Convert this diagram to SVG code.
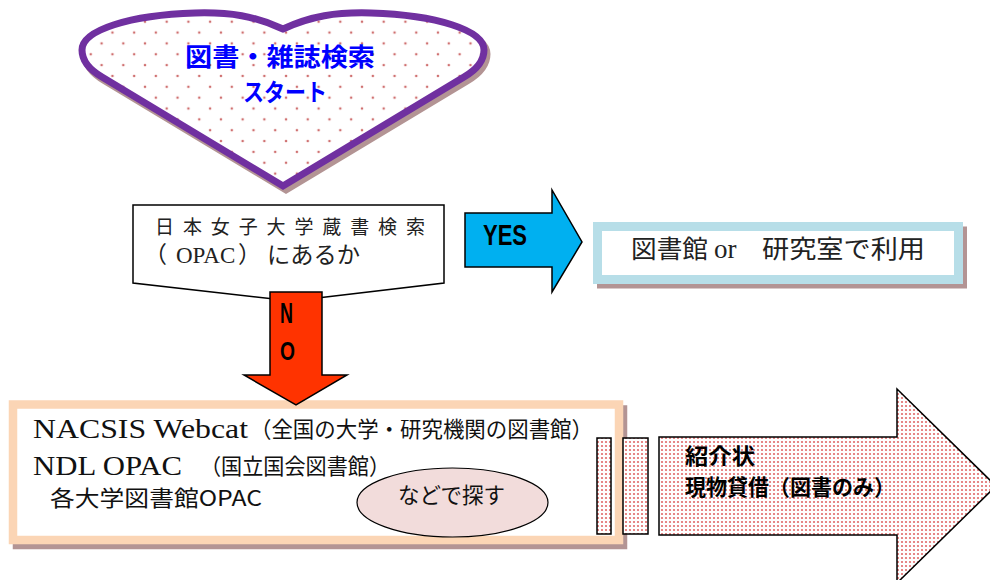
<svg xmlns="http://www.w3.org/2000/svg" width="990" height="580" viewBox="0 0 990 580">
<defs>
<pattern id="heartDots" patternUnits="userSpaceOnUse" x="14.8" y="0" width="21.7" height="21.7">
<circle cx="0" cy="0" r="1.3" fill="#cf7070"/>
<circle cx="21.7" cy="0" r="1.3" fill="#cf7070"/>
<circle cx="0" cy="21.7" r="1.3" fill="#cf7070"/>
<circle cx="21.7" cy="21.7" r="1.3" fill="#cf7070"/>
<circle cx="10.85" cy="10.85" r="1.3" fill="#cf7070"/>
</pattern>
<pattern id="denseDots" patternUnits="userSpaceOnUse" width="4" height="4">
<rect width="4" height="4" fill="#ffffff"/>
<circle cx="2" cy="2" r="1.1" fill="#e06a6a"/>
</pattern>
<style>
.shadow{fill:none;stroke:#b39494}
.ln{stroke:#000;stroke-width:1.5}
.jp{font-family:"Noto Sans CJK JP","Noto Sans",sans-serif}
.lat{font-family:"Liberation Serif","Noto Sans CJK JP",serif}
.bold{font-family:"Liberation Sans","Noto Sans CJK JP",sans-serif;font-weight:bold}
</style>
</defs>
<rect width="990" height="580" fill="#ffffff"/>

<g id="start">
<path transform="translate(3,4)" d="M283,29 C255,16 230,12 195,13 C130,15 82,30 82,50 C82,62 90,70 102,77 L283,186 L464,77 C476,70 484,62 484,50 C484,30 436,15 371,13 C336,12 311,16 283,29 Z" fill="#b39494" stroke="#b39494" stroke-width="7"/>
<path d="M283,29 C255,16 230,12 195,13 C130,15 82,30 82,50 C82,62 90,70 102,77 L283,186 L464,77 C476,70 484,62 484,50 C484,30 436,15 371,13 C336,12 311,16 283,29 Z" fill="#ffffff" stroke="none"/>
<path d="M283,29 C255,16 230,12 195,13 C130,15 82,30 82,50 C82,62 90,70 102,77 L283,186 L464,77 C476,70 484,62 484,50 C484,30 436,15 371,13 C336,12 311,16 283,29 Z" fill="url(#heartDots)" stroke="#7030a0" stroke-width="7"/>
<text class="bold" x="185" y="66" font-size="25" fill="#0000ff" textLength="190" lengthAdjust="spacingAndGlyphs">図書・雑誌検索</text>
<text class="bold" x="243" y="101" font-size="24" fill="#0000ff" textLength="84" lengthAdjust="spacingAndGlyphs">スタート</text>
</g>

<g id="decision">
<polygon points="133,205 444,205 444,283 292,301 133,283" fill="#ffffff" class="ln"/>
<text class="jp" x="155" y="234" font-size="19" fill="#222" textLength="270" lengthAdjust="spacing">日本女子大学蔵書検索</text>
<text class="jp" y="263" font-size="23" fill="#222"><tspan x="144">（</tspan><tspan class="lat" x="176" font-size="23">OPAC</tspan><tspan x="238">）</tspan><tspan x="267" textLength="93" lengthAdjust="spacingAndGlyphs">にあるか</tspan></text>
</g>

<g id="use">
<rect class="shadow" x="601.5" y="231" width="361" height="53" stroke-width="9"/>
<rect x="597.5" y="226.5" width="361" height="53" fill="#ffffff" stroke="#b7dee8" stroke-width="9"/>
<text class="jp" y="258" font-size="25" fill="#222"><tspan x="631" textLength="77" lengthAdjust="spacingAndGlyphs">図書館</tspan><tspan class="lat" x="714" font-size="27">or</tspan><tspan x="762" textLength="163" lengthAdjust="spacingAndGlyphs">研究室で利用</tspan></text>
</g>

<g id="search">
<rect class="shadow" x="17" y="409.5" width="606" height="135.5" stroke-width="8.5"/>
<rect x="13" y="404.5" width="606" height="135.5" fill="#ffffff" stroke="#fbd5b5" stroke-width="8.5"/>
<text class="lat" x="33" y="438" font-size="28" fill="#111" textLength="215" lengthAdjust="spacingAndGlyphs">NACSIS Webcat</text>
<text class="jp" x="250" y="437" font-size="22" fill="#111" textLength="343" lengthAdjust="spacingAndGlyphs">（全国の大学・研究機関の図書館）</text>
<text class="lat" x="33" y="475" font-size="28" fill="#111" textLength="149" lengthAdjust="spacingAndGlyphs">NDL OPAC</text>
<text class="jp" x="200" y="474" font-size="22" fill="#111" textLength="190" lengthAdjust="spacingAndGlyphs">（国立国会図書館）</text>
<text class="jp" x="50" y="506" font-size="22" fill="#111" textLength="212" lengthAdjust="spacingAndGlyphs">各大学図書館OPAC</text>
</g>

<g id="etc">
<ellipse cx="452.5" cy="502.5" rx="95.5" ry="34.5" fill="#f2dcdb" stroke="#000" stroke-width="1.2"/>
<text class="jp" x="398" y="503" font-size="22" fill="#111" textLength="107" lengthAdjust="spacingAndGlyphs">などで探す</text>
</g>

<g id="connectors">
<polygon points="465,213 552,213 552,190 582,242 552,292 552,267 465,267" fill="#00b0f0" class="ln"/>
<text class="bold" x="483" y="245" font-size="30" fill="#000" textLength="44" lengthAdjust="spacingAndGlyphs">YES</text>
<polygon points="270,292 322,292 322,375 347,375 296,405 244,375 270,375" fill="#ff3300" class="ln"/>
<text class="bold" x="280" y="323" font-size="29" fill="#000" textLength="13" lengthAdjust="spacingAndGlyphs">N</text>
<text class="bold" x="280" y="360" font-size="26" fill="#000" textLength="15" lengthAdjust="spacingAndGlyphs">O</text>
<rect x="597" y="438" width="14" height="96" fill="url(#denseDots)" class="ln"/>
<rect x="623" y="438" width="25" height="96" fill="url(#denseDots)" class="ln"/>
<polygon points="659,437 897,437 897,389 996,486 897,583 897,535 659,535" fill="url(#denseDots)" class="ln"/>
</g>

<g id="loan">
<text class="bold" x="685" y="464" font-size="22" fill="#000" textLength="70" lengthAdjust="spacingAndGlyphs">紹介状</text>
<text class="bold" x="685" y="495" font-size="22" fill="#000" textLength="210" lengthAdjust="spacingAndGlyphs">現物貸借（図書のみ）</text>
</g>
</svg>
